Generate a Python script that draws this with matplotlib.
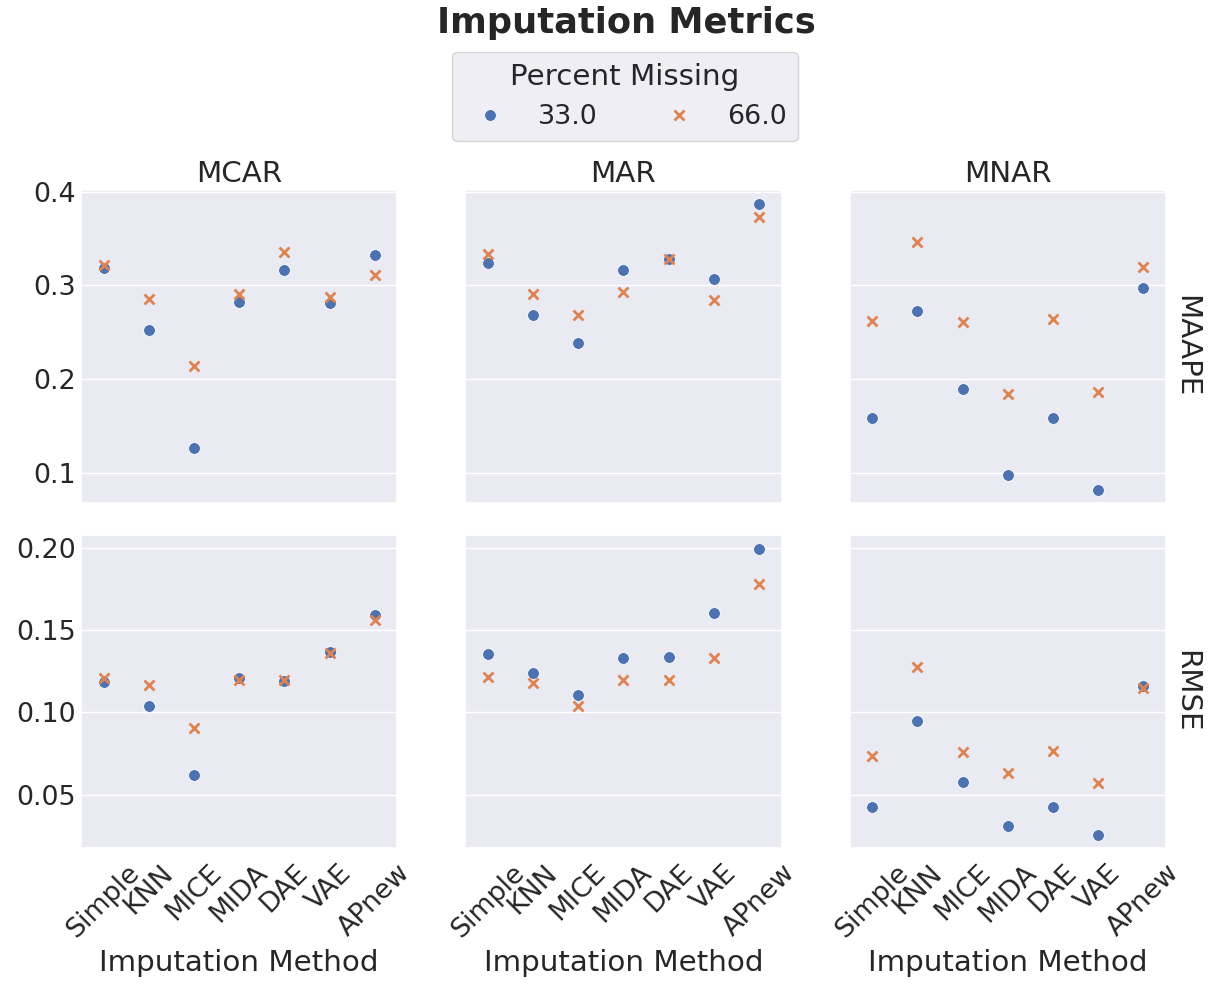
import numpy as np
import matplotlib.pyplot as plt
import seaborn as sns

# datos
methods = ["Simple", "KNN", "MICE", "MIDA", "DAE", "VAE", "APnew"]
missingness = ["MCAR", "MAR", "MNAR"]
metrics = ["MAAPE", "RMSE"]
percents = ["33.0", "66.0"]

maape_33 = {
    "MCAR": [0.319, 0.252, 0.126, 0.282, 0.317, 0.281, 0.332],
    "MAR":  [0.324, 0.269, 0.239, 0.316, 0.328, 0.307, 0.387],
    "MNAR": [0.158, 0.273, 0.190, 0.098, 0.158, 0.082, 0.297],
}
maape_66 = {
    "MCAR": [0.322, 0.286, 0.214, 0.291, 0.336, 0.288, 0.311],
    "MAR":  [0.334, 0.291, 0.268, 0.293, 0.328, 0.285, 0.373],
    "MNAR": [0.262, 0.346, 0.261, 0.184, 0.264, 0.186, 0.320],
}
rmse_33 = {
    "MCAR": [0.1186, 0.1036, 0.0619, 0.1211, 0.1188, 0.1366, 0.1593],
    "MAR":  [0.1352, 0.1239, 0.1105, 0.1328, 0.1336, 0.1605, 0.1992],
    "MNAR": [0.0425, 0.0947, 0.0577, 0.0308, 0.0425, 0.0255, 0.1158],
}
rmse_66 = {
    "MCAR": [0.1211, 0.1164, 0.0903, 0.1194, 0.1194, 0.1358, 0.1559],
    "MAR":  [0.1217, 0.1178, 0.1036, 0.1194, 0.1194, 0.1328, 0.1777],
    "MNAR": [0.0733, 0.1275, 0.0761, 0.0630, 0.0767, 0.0571, 0.1150],
}

sns.set_theme(style="darkgrid", font_scale=1.76)
plt.rcParams['font.family'] = ['DejaVu Sans']

colors = ["#4c72b0", "#dd8452"]
markers = ["o", "x"]

fig, axes = plt.subplots(2, 3, figsize=(12.17, 9.84), dpi=100, sharey='row', sharex=True)
plt.subplots_adjust(left=0.0666, right=0.958, bottom=0.138, top=0.807, wspace=0.215, hspace=0.102)

x = np.arange(len(methods))
data = {"MAAPE": [maape_33, maape_66], "RMSE": [rmse_33, rmse_66]}

handles = []
for i, metric in enumerate(metrics):
    for j, miss in enumerate(missingness):
        ax = axes[i, j]
        for k in range(2):
            vals = data[metric][k][miss]
            if markers[k] == "o":
                h, = ax.plot(x, vals, linestyle="none", marker="o", markersize=8.5,
                             color=colors[k], markeredgecolor="white", markeredgewidth=0.6)
            else:
                h, = ax.plot(x, vals, linestyle="none", marker="x", markersize=6.5,
                             color=colors[k], markeredgewidth=2)
            if i == 0 and j == 0:
                handles.append(h)
        ax.grid(False, axis='x')
        ax.set_xlim(-0.5, 6.5)
        if i == 0:
            ax.set_title(miss)
        if j == 2:
            ax.annotate(metric, xy=(1.02, 0.5), xycoords="axes fraction",
                        rotation=270, ha="left", va="center", fontsize=21.1)
        if i == 1:
            ax.set_xticks(x)
            ax.set_xticklabels(methods, rotation=45)
            ax.set_xlabel("Imputation Method")
        ax.tick_params(axis='both', length=0)
        ax.tick_params(axis='x', pad=8.5)

axes[0, 0].set_ylim(0.0677, 0.402)
axes[0, 0].set_yticks([0.1, 0.2, 0.3, 0.4])
axes[1, 0].set_ylim(0.0174, 0.2077)
axes[1, 0].set_yticks([0.05, 0.10, 0.15, 0.20])
axes[1, 0].set_yticklabels(["0.05", "0.10", "0.15", "0.20"])

fig.suptitle("Imputation Metrics", x=0.5145, y=0.977, fontsize=25.4, fontweight="bold", va="center")
fig.legend(handles, percents, title="Percent Missing", ncol=2, loc="center",
           bbox_to_anchor=(0.5136, 0.902))

plt.savefig("out.png", dpi=100)
